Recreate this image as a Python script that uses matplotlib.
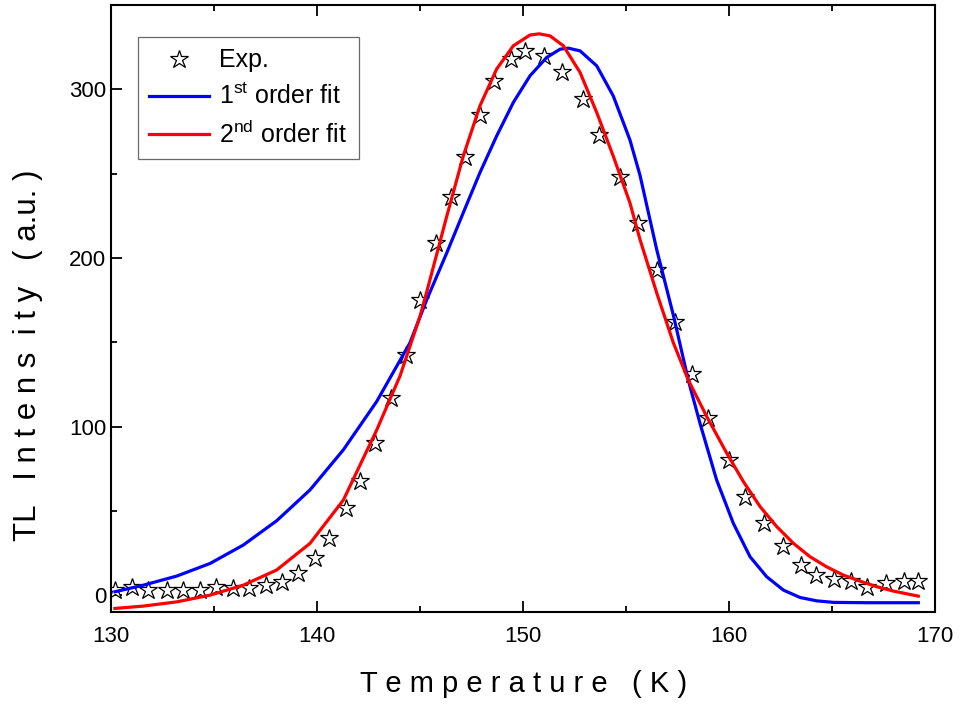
import matplotlib
matplotlib.use("Agg")
import matplotlib.pyplot as plt
from matplotlib.ticker import MultipleLocator

plt.rcParams['font.family'] = ['Liberation Sans', 'DejaVu Sans']
plt.rcParams['mathtext.fontset'] = 'custom'
plt.rcParams['mathtext.rm'] = 'Liberation Sans'

# Experimental points
T_exp = [130.2, 131.0, 131.8, 132.7, 133.5, 134.3, 135.1, 135.9, 136.7, 137.5,
         138.3, 139.1, 139.9, 140.6, 141.4, 142.1, 142.8, 143.6, 144.3, 145.0,
         145.8, 146.5, 147.2, 147.9, 148.6, 149.4, 150.1, 151.0, 151.9, 152.9,
         153.7, 154.7, 155.6, 156.5, 157.4, 158.2, 159.0, 160.0, 160.8, 161.7,
         162.6, 163.5, 164.2, 165.1, 165.9, 166.7, 167.6, 168.5, 169.2]
I_exp = [3.0, 4.9, 3.0, 3.0, 3.0, 3.0, 4.9, 4.0, 4.0, 5.9,
         7.9, 13.3, 21.8, 33.7, 51.9, 67.7, 90.1, 116.9, 142.6, 175,
         209, 236, 260, 285, 305, 318, 323, 320, 310, 294,
         273, 248, 221, 193, 162, 131, 105, 80, 58, 43,
         29, 18, 12, 9.5, 8.3, 4.9, 7.0, 8.3, 8.3]

# First-order fit curve
T_fit1 = [130.19, 131.57, 133.19, 134.81, 136.42, 138.04, 139.66, 141.28, 142.90, 144.51,
          145.33, 146.30, 147.10, 147.91, 148.72, 149.53, 150.34, 151.15, 151.80, 152.20,
          152.77, 153.58, 154.38, 155.19, 155.68, 156.49, 157.30, 158.02, 158.59, 159.40,
          160.21, 161.02, 161.83, 162.64, 163.45, 164.26, 165.07, 166.69, 169.19]
I_fit1 = [2.0, 5.9, 11.3, 18.8, 29.7, 44.1, 62.4, 86.2, 114.9, 149.6,
          175.3, 203.0, 226.8, 250.6, 272.3, 292.2, 308.0, 318.9, 323.8, 324.4,
          322.8, 313.9, 296.1, 270.0, 249.0, 205.0, 166.0, 127.7, 102.0, 68.3,
          42.6, 22.8, 10.9, 3.0, -1.4, -3.4, -4.3, -4.5, -4.5]

# Second-order fit curve
T_fit2 = [130.19, 131.57, 133.19, 134.81, 136.42, 138.04, 139.66, 141.28, 142.90, 144.03,
          145.00, 145.33, 146.30, 147.10, 147.91, 148.72, 149.53, 150.34, 150.79, 151.31,
          151.96, 152.77, 153.58, 154.38, 155.19, 155.68, 156.49, 157.30, 158.02, 158.92,
          159.89, 160.70, 161.51, 162.32, 163.13, 163.93, 164.74, 165.55, 166.36, 167.17,
          167.98, 169.19]
I_fit2 = [-7.9, -6.5, -4.0, 0.0, 5.9, 14.9, 30.7, 56.4, 98.0, 130.0,
          165.4, 180.0, 224.8, 260.4, 290.2, 312.0, 325.8, 332.2, 332.9, 331.7,
          325.8, 310.0, 286.2, 260.4, 232.7, 210.9, 179.3, 149.6, 127.7, 105.9,
          84.2, 67.3, 52.5, 40.6, 30.7, 22.8, 16.8, 11.9, 8.3, 5.0,
          2.4, -0.6]

fig = plt.figure(figsize=(9.63, 7.04), dpi=100)
ax = fig.add_axes([0.1153, 0.1307, 0.9709 - 0.1153, 0.9929 - 0.1307])

ax.plot(T_exp, I_exp, linestyle='none', marker='*', ms=13.5, mfc='white',
        mec='black', mew=0.9, label='Exp.', zorder=2)
ax.plot(T_fit1, I_fit1, color='#0000ff', lw=2.3, label=r'1$^{\rm st}$ order fit',
        zorder=3, solid_joinstyle='round')
ax.plot(T_fit2, I_fit2, color='#ff0000', lw=2.3, label=r'2$^{\rm nd}$ order fit',
        zorder=4, solid_joinstyle='round')

ax.set_xlim(130, 170)
ax.set_ylim(-10, 350)
ax.xaxis.set_major_locator(MultipleLocator(10))
ax.xaxis.set_minor_locator(MultipleLocator(5))
ax.yaxis.set_major_locator(MultipleLocator(100))
ax.yaxis.set_minor_locator(MultipleLocator(50))

ax.tick_params(which='both', direction='in', top=True, right=False, width=1.3,
               labelsize=16)
ax.tick_params(which='major', length=8)
ax.tick_params(which='minor', length=4.5)
ax.tick_params(axis='x', pad=10)
for s in ax.spines.values():
    s.set_linewidth(1.5)

ax.set_xlabel('T e m p e r a t u r e   ( K )', fontsize=21)
ax.xaxis.set_label_coords(0.501, -0.095)
ax.set_ylabel('TL   I n t e n s  i t y   ( a.u. )', fontsize=22.5)
ax.yaxis.set_label_coords(-0.083, 0.423)

leg = ax.legend(loc='upper left', bbox_to_anchor=(0.033, 0.947), borderaxespad=0,
                fontsize=18, frameon=True, fancybox=False, edgecolor='#444444',
                handlelength=2.4, borderpad=0.45, labelspacing=0.45,
                handletextpad=0.4)
leg.get_frame().set_linewidth(0.9)

fig.savefig('out.png', dpi=100)
